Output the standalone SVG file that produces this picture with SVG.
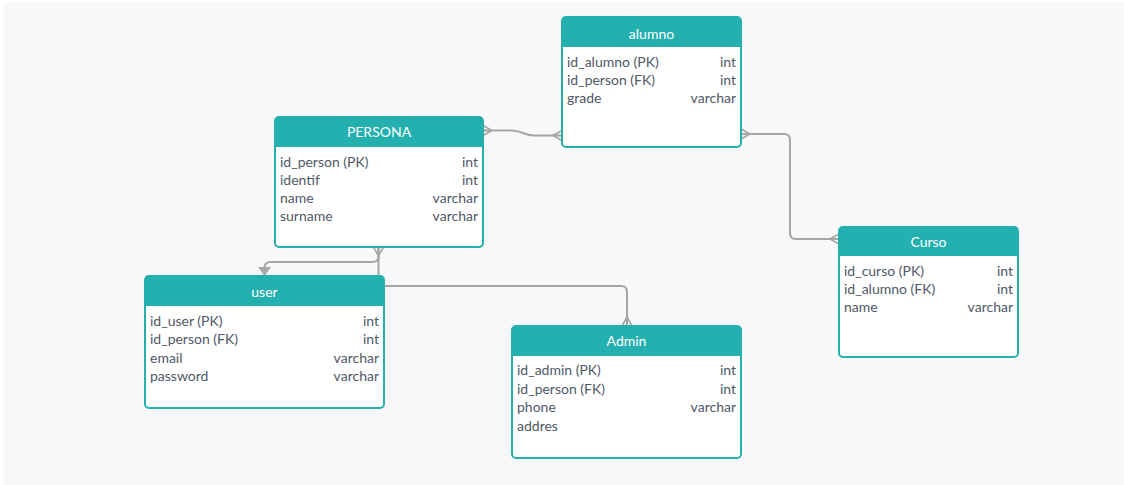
<svg xmlns="http://www.w3.org/2000/svg" width="1124" height="485" viewBox="0 0 1124 485">
  <style>
    .box { fill: #ffffff; stroke: #24b0ae; stroke-width: 2; }
    .hdr { fill: #24b0ae; }
    .title { font-family: Lato, "Open Sans", sans-serif; font-size: 14px; fill: #ffffff; text-anchor: middle; }
    .col { font-family: Lato, "Open Sans", sans-serif; font-size: 14px; fill: #4f5968; }
    .typ { font-family: Lato, "Open Sans", sans-serif; font-size: 14px; fill: #4f5968; text-anchor: end; }
    .link { fill: none; stroke: #a6a6a6; stroke-width: 2; }
  </style>
  <defs>
    <!-- crow's foot: prongs spread at the table edge -->
    <marker id="many" markerUnits="userSpaceOnUse" viewBox="-11 -7 13 14" markerWidth="13" markerHeight="14" refX="0" refY="0" orient="auto-start-reverse" overflow="visible">
      <path d="M-9,0 L0,-5 M-9,0 L0,0 M-9,0 L0,5" fill="none" stroke="#a6a6a6" stroke-width="1.6"/>
    </marker>
    <marker id="arrow" markerUnits="userSpaceOnUse" viewBox="-11 -8 12 16" markerWidth="12" markerHeight="16" refX="0" refY="0" orient="auto" overflow="visible">
      <path d="M-9,-6.5 L0,0 L-9,6.5 Z" fill="#a6a6a6"/>
    </marker>
  </defs>

  <rect x="0" y="0" width="1124" height="485" fill="#ffffff"/>
  <rect x="4" y="2" width="1120" height="483" fill="#f8f8fa"/>

  <g id="connectors">
    <path class="link" d="M483,130.5 L512,130.5 C522,130.5 524,135.5 534,135.5 L562,135.5" marker-start="url(#many)" marker-end="url(#many)"/>
    <path class="link" d="M741,134 L784,134 Q790,134 790,140 L790,233 Q790,239 796,239 L839,239" marker-start="url(#many)" marker-end="url(#many)"/>
    <path class="link" d="M378.5,247 L378.5,256 Q378.5,262 372.5,262 L270.5,262 Q264.5,262 264.5,268 L264.5,276" marker-start="url(#many)" marker-end="url(#arrow)"/>
    <path class="link" d="M378.5,247 L378.5,286 L621,286 Q627,286 627,292 L627,326" marker-end="url(#many)"/>
  </g>

  <g id="alumno">
    <rect class="box" x="562" y="17" width="179" height="130" rx="4"/>
    <path class="hdr" d="M562,47 L562,21 Q562,17 566,17 L737,17 Q741,17 741,21 L741,47 Z"/>
    <text class="title" x="651.5" y="39">alumno</text>
    <text class="col" x="567" y="67">id_alumno (PK)</text><text class="typ" x="736" y="67">int</text>
    <text class="col" x="567" y="85">id_person (FK)</text><text class="typ" x="736" y="85">int</text>
    <text class="col" x="567" y="103">grade</text><text class="typ" x="736" y="103">varchar</text>
  </g>

  <g id="persona">
    <rect class="box" x="275" y="117" width="208" height="130" rx="4"/>
    <path class="hdr" d="M275,147 L275,121 Q275,117 279,117 L479,117 Q483,117 483,121 L483,147 Z"/>
    <text class="title" x="379" y="137">PERSONA</text>
    <text class="col" x="280" y="166.5">id_person (PK)</text><text class="typ" x="478" y="166.5">int</text>
    <text class="col" x="280" y="184.5">identif</text><text class="typ" x="478" y="184.5">int</text>
    <text class="col" x="280" y="202.5">name</text><text class="typ" x="478" y="202.5">varchar</text>
    <text class="col" x="280" y="220.5">surname</text><text class="typ" x="478" y="220.5">varchar</text>
  </g>

  <g id="user">
    <rect class="box" x="145" y="276" width="239" height="132" rx="4"/>
    <path class="hdr" d="M145,306 L145,280 Q145,276 149,276 L380,276 Q384,276 384,280 L384,306 Z"/>
    <text class="title" x="264.5" y="297">user</text>
    <text class="col" x="150" y="325.5">id_user (PK)</text><text class="typ" x="379" y="325.5">int</text>
    <text class="col" x="150" y="344">id_person (FK)</text><text class="typ" x="379" y="344">int</text>
    <text class="col" x="150" y="362.5">email</text><text class="typ" x="379" y="362.5">varchar</text>
    <text class="col" x="150" y="381">password</text><text class="typ" x="379" y="381">varchar</text>
  </g>

  <g id="admin">
    <rect class="box" x="512" y="326" width="229" height="132" rx="4"/>
    <path class="hdr" d="M512,356 L512,330 Q512,326 516,326 L737,326 Q741,326 741,330 L741,356 Z"/>
    <text class="title" x="626.5" y="346">Admin</text>
    <text class="col" x="517" y="375">id_admin (PK)</text><text class="typ" x="736" y="375">int</text>
    <text class="col" x="517" y="393.5">id_person (FK)</text><text class="typ" x="736" y="393.5">int</text>
    <text class="col" x="517" y="412">phone</text><text class="typ" x="736" y="412">varchar</text>
    <text class="col" x="517" y="430.5">addres</text>
  </g>

  <g id="curso">
    <rect class="box" x="839" y="227" width="179" height="130" rx="4"/>
    <path class="hdr" d="M839,256 L839,231 Q839,227 843,227 L1014,227 Q1018,227 1018,231 L1018,256 Z"/>
    <text class="title" x="928.5" y="247">Curso</text>
    <text class="col" x="844" y="275.5">id_curso (PK)</text><text class="typ" x="1013" y="275.5">int</text>
    <text class="col" x="844" y="293.5">id_alumno (FK)</text><text class="typ" x="1013" y="293.5">int</text>
    <text class="col" x="844" y="311.5">name</text><text class="typ" x="1013" y="311.5">varchar</text>
  </g>
</svg>
